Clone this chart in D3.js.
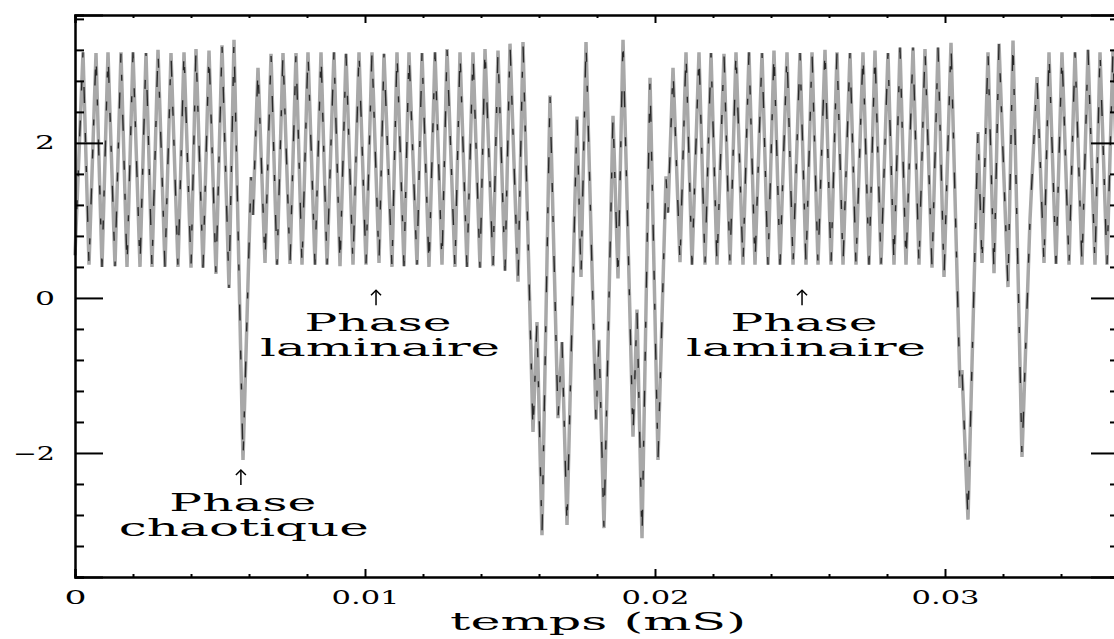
<!DOCTYPE html>
<html>
<head>
<meta charset="utf-8">
<script src="https://cdn.jsdelivr.net/npm/d3@7"></script>
<style>
  body { margin: 0; background: #fff; }
  svg { display: block; }
  .axis path, .axis line { stroke: #000; stroke-width: 2; }
  .axis text { font-family: "DejaVu Serif", serif; font-size: 19px; fill: #000; }
  .note { font-family: "DejaVu Serif", serif; font-size: 25px; fill: #000; }
</style>
</head>
<body>
<div id="chart"></div>
<script>
// signal turning points (time in mS, value)
var times = [
  0, 0.000276, 0.000483, 0.000724, 0.000931, 0.001138, 0.001379, 0.001586, 0.001793, 0.002000,
  0.002241, 0.002448, 0.002655, 0.002862, 0.003103, 0.003310, 0.003552, 0.003759, 0.004000, 0.004172,
  0.004414, 0.004621, 0.004862, 0.005069, 0.005310, 0.005483, 0.005793, 0.006069, 0.006138, 0.006310,
  0.006552, 0.006759, 0.006966, 0.007172, 0.007414, 0.007621, 0.007828, 0.008034, 0.008276, 0.008483,
  0.008690, 0.008931, 0.009138, 0.009345, 0.009586, 0.009793, 0.010034, 0.010241, 0.010483, 0.010655,
  0.010931, 0.011103, 0.011345, 0.011517, 0.011793, 0.011966, 0.012207, 0.012414, 0.012655, 0.012828,
  0.013103, 0.013276, 0.013517, 0.013724, 0.013966, 0.014138, 0.014414, 0.014586, 0.014828, 0.015000,
  0.015276, 0.015448, 0.015793, 0.015931, 0.016103, 0.016379, 0.016655, 0.016793, 0.016966, 0.017310,
  0.017448, 0.017621, 0.017966, 0.018069, 0.018241, 0.018552, 0.018724, 0.018897, 0.019241, 0.019379,
  0.019552, 0.019828, 0.020103, 0.020379, 0.020448, 0.020621, 0.020862, 0.021069, 0.021276, 0.021517,
  0.021724, 0.021931, 0.022138, 0.022379, 0.022586, 0.022793, 0.023034, 0.023241, 0.023448, 0.023690,
  0.023897, 0.024103, 0.024310, 0.024552, 0.024759, 0.025000, 0.025207, 0.025414, 0.025621, 0.025862,
  0.026069, 0.026276, 0.026483, 0.026724, 0.026931, 0.027172, 0.027379, 0.027586, 0.027793, 0.028034,
  0.028241, 0.028448, 0.028655, 0.028897, 0.029103, 0.029310, 0.029552, 0.029759, 0.029966, 0.030207,
  0.030517, 0.030586, 0.030793, 0.031138, 0.031276, 0.031483, 0.031690, 0.031862, 0.032172, 0.032345,
  0.032655, 0.032931, 0.033172, 0.033414, 0.033586, 0.033828, 0.034034, 0.034276, 0.034483, 0.034724,
  0.034931, 0.035172, 0.035345, 0.035586, 0.035793, 0.036000
];
var values = [
  0.55, 3.17, 0.43, 3.16, 0.40, 3.17, 0.41, 3.17, 0.40, 3.17,
  0.40, 3.16, 0.40, 3.20, 0.40, 3.16, 0.40, 3.17, 0.39, 3.21,
  0.39, 3.19, 0.31, 3.26, 0.13, 3.33, -2.09, 1.56, 1.07, 2.97,
  0.45, 3.15, 0.43, 3.16, 0.44, 3.16, 0.43, 3.17, 0.43, 3.17,
  0.43, 3.17, 0.41, 3.15, 0.43, 3.17, 0.43, 3.17, 0.45, 3.15,
  0.40, 3.17, 0.41, 3.17, 0.43, 3.16, 0.40, 3.17, 0.43, 3.21,
  0.40, 3.17, 0.40, 3.17, 0.39, 3.21, 0.41, 3.19, 0.35, 3.28,
  0.21, 3.30, -1.73, -0.31, -3.06, 2.61, -1.55, -0.57, -2.93, 2.34,
  0.27, 3.30, -1.57, -0.54, -2.97, 2.35, 0.25, 3.33, -1.79, -0.15,
  -3.10, 2.84, -2.09, 1.57, 1.10, 2.97, 0.46, 3.17, 0.43, 3.17,
  0.43, 3.16, 0.43, 3.15, 0.43, 3.17, 0.43, 3.17, 0.43, 3.16,
  0.43, 3.19, 0.43, 3.17, 0.43, 3.16, 0.43, 3.17, 0.43, 3.20,
  0.43, 3.17, 0.43, 3.16, 0.43, 3.17, 0.43, 3.19, 0.43, 3.16,
  0.43, 3.23, 0.43, 3.23, 0.43, 3.21, 0.39, 3.23, 0.27, 3.29,
  -1.16, -0.93, -2.86, 2.14, 0.45, 3.17, 0.32, 3.28, 0.14, 3.32,
  -2.05, 1.01, 2.85, 0.45, 3.17, 0.44, 3.17, 0.43, 3.17, 0.43,
  3.20, 0.43, 3.17, 0.43, 3.20, 0.49
];

// axis ticks
var xMajorTicks = [0, 0.01, 0.02, 0.03];
var xMinorTicks = [0.002, 0.004, 0.006, 0.008, 0.012, 0.014, 0.016, 0.018, 0.022, 0.024, 0.026, 0.028, 0.032, 0.034];
var xTickLabels = ["0", "0.01", "0.02", "0.03"];
var yMajorTicks = [-2, 0, 2];
var yMinorTicks = [-3.6, -3.2, -2.8, -2.4, -1.6, -1.2, -0.8, -0.4, 0.4, 0.8, 1.2, 1.6, 2.4, 2.8, 3.2, 3.6];
var yTickLabels = ["\u22122", "0", "2"];

// annotations (arrow tip position in data units)
var noteLines = [["Phase", "laminaire"], ["Phase", "laminaire"], ["Phase", "chaotique"]];
var noteTimes = [0.01038, 0.02507, 0.00572];
var noteValues = [0.10, 0.10, -2.22];

var svgWidth = 1114;
var svgHeight = 639;

var svg = d3.select("#chart")
  .append("svg")
  .attr("width", svgWidth)
  .attr("height", svgHeight);

var xScale = d3.scaleLinear().domain([0, 0.036]).range([75, 1119]);
var yScale = d3.scaleLinear().domain([-3.6, 3.65]).range([577, 15]);

var points = times.map(function(t, i) { return [t, values[i]]; });

var line = d3.line()
  .x(d => xScale(d[0]))
  .y(d => yScale(d[1]));

// signal: grey band with a broken dark core, like the old plotter output
svg.append("path")
  .datum(points)
  .attr("d", line)
  .attr("fill", "none")
  .attr("stroke", "#a8a8a8")
  .attr("stroke-width", 3.5)
  .attr("stroke-linejoin", "bevel");

svg.append("path")
  .datum(points)
  .attr("d", line)
  .attr("fill", "none")
  .attr("stroke", "#000")
  .attr("stroke-opacity", 0.75)
  .attr("stroke-width", 1.4)
  .attr("stroke-linejoin", "bevel")
  .attr("stroke-dasharray", "16 30 9 24 6 34");

// axes: ticks point inward on all four sides
function addAxis(axis, transform) {
  return svg.append("g")
    .attr("class", "axis")
    .attr("transform", transform)
    .call(axis);
}

addAxis(d3.axisBottom(xScale).tickValues(xMinorTicks).tickSize(-3).tickFormat(""), "translate(0,577)");
var xAxis = addAxis(d3.axisBottom(xScale).tickValues(xMajorTicks).tickSize(-8).tickPadding(14)
  .tickFormat((d, i) => xTickLabels[i]), "translate(0,577)");
addAxis(d3.axisTop(xScale).tickValues(xMinorTicks).tickSize(-3).tickFormat(""), "translate(0,15)");
addAxis(d3.axisTop(xScale).tickValues(xMajorTicks).tickSize(-8).tickFormat(""), "translate(0,15)");

addAxis(d3.axisLeft(yScale).tickValues(yMinorTicks).tickSize(-9).tickFormat(""), "translate(75,0)");
var yAxis = addAxis(d3.axisLeft(yScale).tickValues(yMajorTicks).tickSize(-28).tickPadding(20)
  .tickFormat((d, i) => yTickLabels[i]), "translate(75,0)");
addAxis(d3.axisRight(yScale).tickValues(yMinorTicks).tickSize(-9).tickFormat(""), "translate(1119,0)");
addAxis(d3.axisRight(yScale).tickValues(yMajorTicks).tickSize(-28).tickFormat(""), "translate(1119,0)");

// stretch tick labels like the wide original font
xAxis.selectAll("text")
  .attr("textLength", d => d === 0 ? 22 : 68)
  .attr("lengthAdjust", "spacingAndGlyphs");
yAxis.selectAll("text")
  .attr("textLength", d => d < 0 ? 42 : 20)
  .attr("lengthAdjust", "spacingAndGlyphs");

// axis title
svg.append("text")
  .attr("class", "note")
  .attr("x", 598)
  .attr("y", 630)
  .attr("text-anchor", "middle")
  .attr("font-size", 28)
  .attr("textLength", 296)
  .attr("lengthAdjust", "spacingAndGlyphs")
  .text("temps (mS)");

// annotations: arrow plus a two-line label in one text block
noteLines.forEach(function(lines, i) {
  var ax = xScale(noteTimes[i]);
  var ay = yScale(noteValues[i]);
  var g = svg.append("g");
  g.append("line")
    .attr("x1", ax).attr("x2", ax)
    .attr("y1", ay).attr("y2", ay + 15)
    .attr("stroke", "#000").attr("stroke-width", 1.5);
  g.append("path")
    .attr("d", `M${ax - 5},${ay + 5} L${ax},${ay} L${ax + 5},${ay + 5}`)
    .attr("fill", "none").attr("stroke", "#000").attr("stroke-width", 1.5);
  var label = g.append("text")
    .attr("class", "note")
    .attr("text-anchor", "middle");
  label.append("tspan")
    .attr("x", ax + 2)
    .attr("y", ay + 41)
    .attr("textLength", 147)
    .attr("lengthAdjust", "spacingAndGlyphs")
    .text(lines[0]);
  label.append("tspan")
    .attr("x", ax + (i === 2 ? 3 : 4))
    .attr("y", ay + 66)
    .attr("textLength", i === 2 ? 250 : 240)
    .attr("lengthAdjust", "spacingAndGlyphs")
    .text(lines[1]);
});
</script>
</body>
</html>
